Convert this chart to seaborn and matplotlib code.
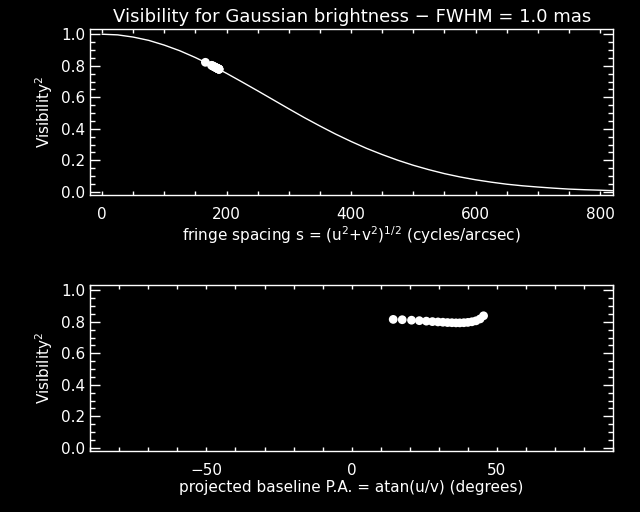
import matplotlib
matplotlib.use("Agg")
import matplotlib.pyplot as plt
from matplotlib.ticker import MultipleLocator
import seaborn as sns
import pandas as pd

# ---- data ----
# Model curve: squared visibility vs fringe spacing
curve_s = [0, 25, 50, 75, 100, 125, 150, 175, 200, 225, 250, 275, 300, 325, 350,
           375, 400, 425, 450, 475, 500, 525, 550, 575, 600, 625, 650, 675, 700,
           725, 750, 775, 800, 820]
curve_v2 = [1.000, 0.996, 0.982, 0.961, 0.931, 0.895, 0.852, 0.804, 0.752, 0.697,
            0.641, 0.584, 0.527, 0.471, 0.418, 0.367, 0.320, 0.276, 0.237, 0.201,
            0.169, 0.141, 0.116, 0.095, 0.077, 0.062, 0.049, 0.039, 0.031, 0.024,
            0.018, 0.014, 0.011, 0.008]

# Observed points (top panel: fringe spacing vs V^2)
obs_s = [177.2, 178.2, 179.7, 181.2, 182.6, 184.1, 185.1, 186.0, 187.0, 187.5,
         188.0, 188.0, 187.5, 186.5, 184.6, 181.6, 175.8, 166.0]
obs_v2_top = [0.800, 0.798, 0.795, 0.792, 0.789, 0.786, 0.784, 0.782, 0.780, 0.779,
              0.778, 0.778, 0.779, 0.781, 0.785, 0.791, 0.803, 0.822]

# Observed points (bottom panel: position angle vs V^2)
obs_pa = [14.3, 17.4, 20.6, 23.3, 25.7, 27.8, 29.7, 31.4, 33.0, 34.5, 35.9, 37.2,
          38.6, 40.0, 41.4, 42.8, 44.2, 45.4]
obs_v2 = [0.815, 0.813, 0.810, 0.807, 0.804, 0.801, 0.799, 0.797, 0.795, 0.794,
          0.793, 0.793, 0.794, 0.796, 0.800, 0.806, 0.818, 0.838]

title = "Visibility for Gaussian brightness \u2212 FWHM = 1.0 mas"
ylabel = "Visibility$^2$"
xlabel_top = "fringe spacing s = (u$^2$+v$^2$)$^{1/2}$ (cycles/arcsec)"
xlabel_bot = "projected baseline P.A. = atan(u/v) (degrees)"

curve_df = pd.DataFrame({"s": curve_s, "v2": curve_v2})
top_df = pd.DataFrame({"s": obs_s, "v2": obs_v2_top})
bot_df = pd.DataFrame({"pa": obs_pa, "v2": obs_v2})

# ---- style ----
sns.set_theme(style="ticks")
plt.rcParams.update({
    "font.family": ["DejaVu Sans"],
    "figure.facecolor": "black",
    "axes.facecolor": "black",
    "axes.edgecolor": "white",
    "axes.labelcolor": "white",
    "text.color": "white",
    "xtick.color": "white",
    "ytick.color": "white",
    "axes.linewidth": 1.0,
    "mathtext.fontset": "dejavusans",
})

fig = plt.figure(figsize=(6.4, 5.12), dpi=100)
ax1 = fig.add_axes([0.141, 0.619, 0.817, 0.324])
ax2 = fig.add_axes([0.141, 0.119, 0.817, 0.324])

FS = 11

sns.lineplot(data=curve_df, x="s", y="v2", ax=ax1, color="white", lw=1.0,
             estimator=None, sort=False)
sns.scatterplot(data=top_df, x="s", y="v2", ax=ax1, color="white", s=40,
                edgecolor="none", zorder=3)
sns.scatterplot(data=bot_df, x="pa", y="v2", ax=ax2, color="white", s=40,
                edgecolor="none", zorder=3)

ax1.set_xlim(-19, 821)
ax2.set_xlim(-90, 90)
for ax in (ax1, ax2):
    ax.set_ylim(-0.02, 1.032)
    ax.yaxis.set_major_locator(MultipleLocator(0.2))
    ax.yaxis.set_minor_locator(MultipleLocator(0.05))
    ax.yaxis.set_major_formatter(matplotlib.ticker.FormatStrFormatter("%.1f"))
    ax.tick_params(axis="both", which="both", direction="in", top=True, right=True,
                   width=1.0, labelsize=FS, colors="white")
    ax.tick_params(axis="y", which="major", length=7.2, pad=3.6)
    ax.tick_params(axis="y", which="minor", length=3.8)
    ax.tick_params(axis="x", which="major", length=2.6, pad=8.5)
    ax.tick_params(axis="x", which="minor", length=2.6)
    ax.set_ylabel(ylabel, fontsize=FS, labelpad=4)
    for sp in ax.spines.values():
        sp.set_color("white")
        sp.set_visible(True)
    ax.grid(False)

ax1.xaxis.set_major_locator(MultipleLocator(200))
ax1.xaxis.set_minor_locator(MultipleLocator(50))
ax2.xaxis.set_major_locator(MultipleLocator(50))
ax2.xaxis.set_minor_locator(MultipleLocator(10))

ax1.set_xlabel(xlabel_top, fontsize=FS, labelpad=1.5)
ax2.set_xlabel(xlabel_bot, fontsize=FS, labelpad=1.5)
ax1.set_title(title, fontsize=13, color="white", pad=5)

fig.savefig("out.png", dpi=100, facecolor="black")
